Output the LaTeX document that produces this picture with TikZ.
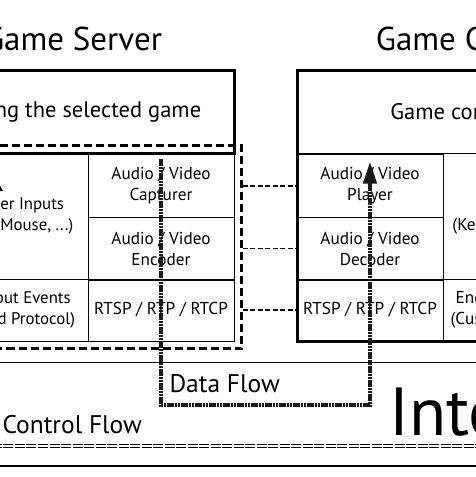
\documentclass[tikz,border=0pt]{standalone}
\usepackage{fontspec}
\setmainfont{PT Sans}
\usetikzlibrary{positioning,fit,arrows.meta}

\begin{document}
\begin{tikzpicture}[x=1pt, y=-1pt,
    cell/.style={draw, line width=0.9pt, inner sep=0pt, outer sep=0pt,
        minimum width=146pt, minimum height=63pt, align=center,
        font=\fontsize{17.2}{21}\selectfont},
    widecell/.style={cell, minimum width=182pt, font=\fontsize{16.8}{21}\selectfont},
    topbox/.style={draw, line width=3pt, inner sep=0pt, outer sep=0pt,
        minimum height=83pt, font=\fontsize{22.5}{26}\selectfont},
    title/.style={font=\fontsize{33}{36}\selectfont, anchor=base},
    flowlabel/.style={font=\fontsize{25.5}{30}\selectfont, anchor=base west},
    modframe/.style={draw, line width=2.4pt, dash pattern=on 8pt off 4pt},
    link/.style={line width=1.4pt, dash pattern=on 5pt off 2.5pt},
    dataflow/.style={line width=4pt, black!90, dash pattern=on 2.2pt off 0.6pt,
        -{Triangle[length=22pt, width=13pt]}},
    ctrlflow/.style={line width=0.8pt, double=white, double distance=2pt,
        dash pattern=on 10pt off 1.5pt, -{Triangle[length=10pt, width=12pt]}}]

    % Picture frame
    \useasboundingbox (0,0) rectangle (476,477);
    \clip (0,0) rectangle (476,477);

    % Internet band
    \draw[line width=0.9pt] (-100,362) -- (640,362);
    \draw[line width=1.6pt] (-100,466) -- (640,466);
    \node[font=\fontsize{68}{70}\selectfont, anchor=base west] (net) at (386,435) {Internet};

    % Game server
    \node[title] (srvtitle) at (73,50) {Game Server};
    \node[topbox, minimum width=328pt] (srvtop) at (70,111.5) {Running the selected game};
    \node[widecell, minimum height=126pt] (srvin) at (-3,216) {Replay User Inputs\\(Keyboard, Mouse, ...)};
    \node[widecell, minimum height=62pt] (srvevt) at (-3,310) {Decode Input Events\\(Customized Protocol)};
    \node[cell] (srvcap) at (161,186) {Audio / Video\\Capturer};
    \node[cell] (srvenc) at (161,248.5) {Audio / Video\\Encoder};
    \node[cell, minimum height=62pt] (srvnet) at (161,310) {RTSP / RTP / RTCP};

    % Dashed frame round the server modules
    \node[modframe, fit=(srvin)(srvnet), inner sep=7.5pt] (srvmod) {};

    % Game client
    \node[title] (clititle) at (462,50) {Game Client};
    \node[cell, minimum width=321pt, minimum height=83pt,
        font=\fontsize{22.5}{26}\selectfont] (clitop) at (457.5,111.5) {Game console};
    \node[cell] (cliplay) at (370,186) {Audio / Video\\Player};
    \node[cell] (clidec) at (370,248.5) {Audio / Video\\Decoder};
    \node[cell, minimum height=62pt] (clinet) at (370,310) {RTSP / RTP / RTCP};
    \node[cell, minimum width=175pt, minimum height=126pt] (cliin) at (530.5,216) {User Inputs\\(Keyboard, Mouse, ...)};
    \node[cell, minimum width=175pt, minimum height=62pt] (clievt) at (530.5,310) {Encode Input Events\\(Customized Protocol)};
    \draw[line width=3pt] (clitop.north west) rectangle (clievt.south east);

    % Links between the two sides
    \draw[link] (srvmod.east |- srvcap.east) -- (cliplay.west);
    \draw[link] (srvmod.east |- srvenc.east) -- (clidec.west);
    \draw[link] (srvmod.east |- srvnet.east) -- (clinet.west);

    % Data flow
    \coordinate (dataturn) at (0,405);
    \draw[dataflow] ([yshift=-4pt]srvcap.north) -- (srvcap.center |- dataturn)
        -- (cliplay.center |- dataturn) -- ([yshift=-7pt]cliplay.north);
    \node[flowlabel] (datalabel) at (166,392) {Data Flow};

    % Control flow
    \coordinate (ctrlturn) at (0,446);
    \draw[ctrlflow] ([yshift=-28pt]cliin.north) -- (cliin.center |- ctrlturn)
        -- (srvin.center |- ctrlturn) -- ([yshift=-28pt]srvin.north);
    \node[flowlabel] (ctrllabel) at (-1,433) {Control Flow};

\end{tikzpicture}
\end{document}
